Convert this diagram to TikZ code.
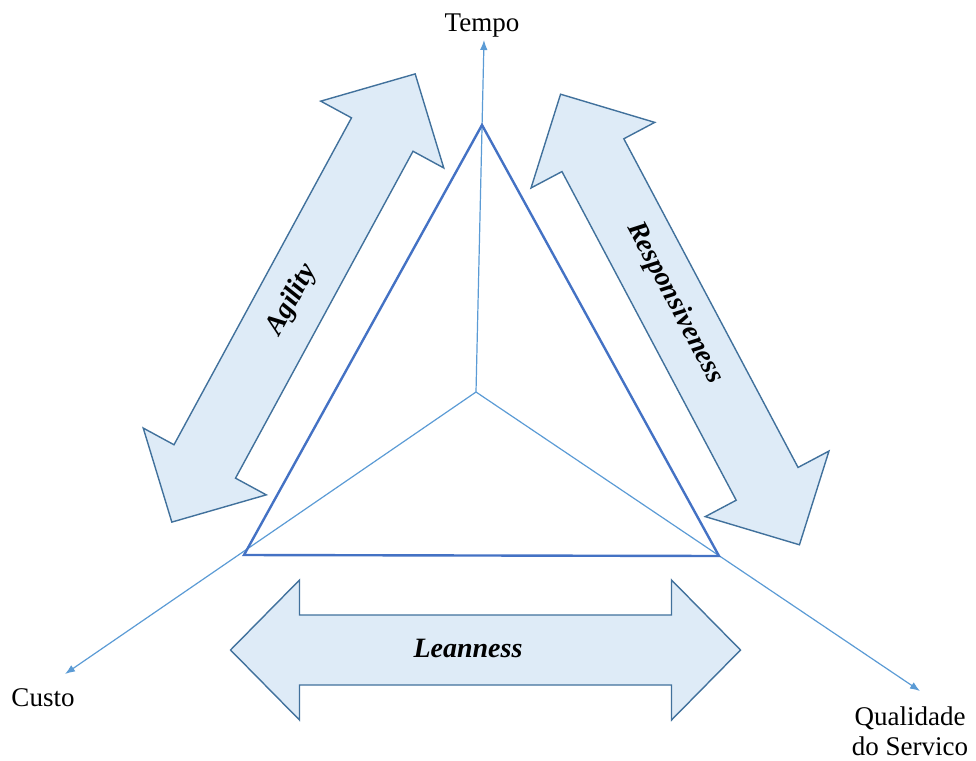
\documentclass[tikz,border=0pt]{standalone}
\usepackage{fontspec}
\setmainfont{Liberation Serif}
\usetikzlibrary{arrows.meta}
\definecolor{axisblue}{HTML}{5B9BD5}
\definecolor{triblue}{HTML}{4472C4}
\definecolor{arrowfill}{HTML}{DEEBF7}
\definecolor{arrowline}{HTML}{41719C}
\tikzset{
  axis/.style={draw=axisblue, line width=1.2pt, -{Latex[length=10pt,width=7.5pt]}},
  tri/.style={draw=triblue, line width=2.4pt, line join=miter},
  lbl/.style={font=\fontsize{27}{30}\selectfont, inner sep=0pt, align=center},
  arrlbl/.style={font=\fontsize{28}{32}\selectfont\bfseries\itshape, inner sep=0pt},
  dblarrow/.pic={
    \draw[fill=arrowfill, draw=arrowline, line width=1.4pt, line join=miter]
      (-255,0) -- (-186,70) -- (-186,35) -- (186,35) -- (186,70) -- (255,0)
      -- (186,-70) -- (186,-35) -- (-186,-35) -- (-186,-70) -- cycle;
  }
}
\begin{document}
\begin{tikzpicture}[x=1pt,y=-1pt]
\useasboundingbox (0,0) rectangle (976,760);
% centre, triangle corners and axis ends
\coordinate (O) at (476,392);
\coordinate (A) at (482,125);
\coordinate (B) at (244,555);
\coordinate (C) at (719,556);
\coordinate (tipT) at (484,40);
\coordinate (tipC) at (65,674);
\coordinate (tipQ) at (920,691);
% axes
\draw[axis] (O) -- (tipT);
\draw[axis] (O) -- (tipC);
\draw[axis] (O) -- (tipQ);
% triangle
\draw[tri] (A) -- (B) -- (C) -- cycle;
% double arrows
\pic[rotate=61.5] at (293.5,298) {dblarrow};
\pic[rotate=-62.07] at (680,319.5) {dblarrow};
\pic at (485.5,650) {dblarrow};
% arrow labels
\node[arrlbl, rotate=61.5] (agi) at (292,300) {Agility};
\node[arrlbl, rotate=-62.07] (resp) at (675,303) {Responsiveness};
\node[arrlbl] (lean) at (468,648) {Leanness};
% axis labels
\node[lbl] (tempo) at (482,26) {Tempo};
\node[lbl] (custo) at (43,698) {Custo};
\node[lbl] (qual) at (910,731) {Qualidade\\do Servico};
\end{tikzpicture}
\end{document}
